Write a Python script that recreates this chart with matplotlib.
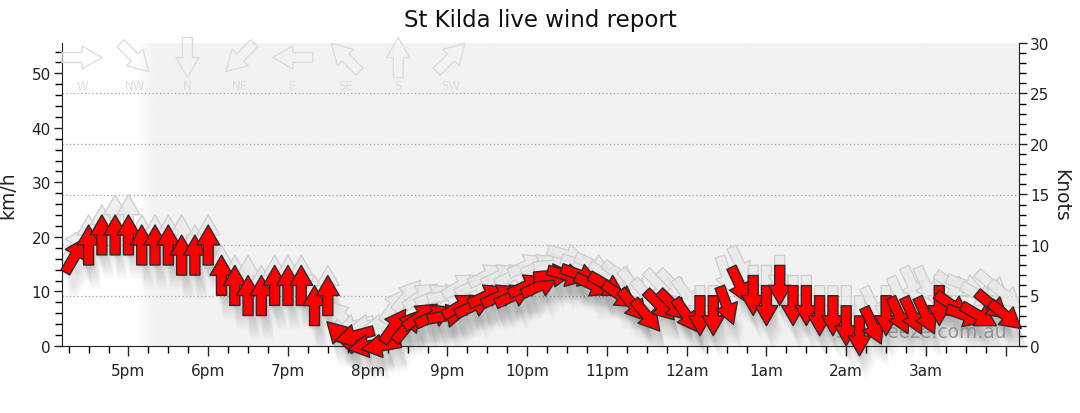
import numpy as np
import matplotlib
matplotlib.use("Agg")
import matplotlib.pyplot as plt
from matplotlib.path import Path
from matplotlib.collections import PathCollection
from matplotlib.transforms import Affine2D, IdentityTransform
from matplotlib.ticker import MultipleLocator, FixedLocator, FixedFormatter

# ---------------- data ----------------
times = ["16:20", "16:30", "16:40", "16:50", "17:00", "17:10", "17:20", "17:30", "17:40", "17:50",
         "18:00", "18:10", "18:20", "18:30", "18:40", "18:50", "19:00", "19:10", "19:20", "19:30",
         "19:40", "19:50", "20:00", "20:10", "20:20", "20:30", "20:40", "20:50", "21:00", "21:10",
         "21:20", "21:30", "21:40", "21:50", "22:00", "22:10", "22:20", "22:30", "22:40", "22:50",
         "23:00", "23:10", "23:20", "23:30", "23:40", "23:50", "00:00", "00:10", "00:20", "00:30",
         "00:40", "00:50", "01:00", "01:10", "01:20", "01:30", "01:40", "01:50", "02:00", "02:10",
         "02:20", "02:30", "02:40", "02:50", "03:00", "03:10", "03:20", "03:30", "03:40", "03:50",
         "04:00"]
speed_kn = [9, 10, 11, 11, 11, 10, 10, 10, 9, 9,
            10, 7, 6, 5, 5, 6, 6, 6, 4, 5,
            1, 1, 0, 0, 2, 2, 3, 3, 3, 4,
            4, 5, 5, 5, 6, 6, 7, 7, 7, 6,
            6, 5, 4, 3, 4, 4, 3, 3, 3, 4,
            6, 5, 4, 6, 4, 4, 3, 3, 2, 1,
            2, 3, 3, 3, 3, 4, 4, 3, 3, 4,
            3]
gust_kn = [10, 11, 12, 13, 13, 11, 11, 11, 11, 10,
           11, 8, 7, 7, 6, 7, 7, 7, 5, 6,
           3, 2, 2, 2, 4, 5, 5, 5, 5, 6,
           6, 7, 7, 7, 8, 8, 8, 9, 8, 8,
           7, 7, 6, 5, 6, 6, 5, 4, 4, 7,
           8, 6, 6, 7, 5, 5, 4, 4, 4, 3,
           4, 4, 5, 6, 6, 5, 6, 6, 5, 6,
           5]
dir_deg = [210, 180, 180, 180, 180, 180, 180, 180, 180, 180,
           180, 180, 180, 180, 180, 180, 180, 180, 180, 180,
           135, 75, 80, 80, 215, 220, 235, 245, 260, 240,
           245, 245, 245, 245, 245, 245, 265, 285, 290, 295,
           300, 305, 320, 320, 315, 315, 325, 0, 0, 340,
           335, 0, 0, 0, 0, 0, 0, 0, 0, 0,
           335, 0, 335, 335, 335, 0, 305, 290, 300, 310,
           310]

hour_labels = ["5pm", "6pm", "7pm", "8pm", "9pm", "10pm", "11pm", "12am", "1am", "2am", "3am", ""]
compass_labels = ["W", "NW", "N", "NE", "E", "SE", "S", "SW"]
compass_deg = [270, 315, 0, 45, 90, 135, 180, 225]

KMH_PER_KN = 1.852
X_MIN, X_MAX = 10 / 60, 12 + 10 / 60      # 4:10pm .. 4:10am (hours after 16:00)
Y_MAX_KN = 30


def to_hours(t):
    h, m = map(int, t.split(":"))
    v = h + m / 60 - 16
    if v < 0:
        v += 24
    return v


x = np.array([to_hours(t) for t in times])
y_wind = np.array(speed_kn) * KMH_PER_KN
y_gust = np.array(gust_kn) * KMH_PER_KN

# ---------------- figure ----------------
FW, FH, DPI = 1080, 414, 100
fig = plt.figure(figsize=(FW / DPI, FH / DPI), dpi=DPI)
L, R, T, B = 62, 1019, 44, 347
ax = fig.add_axes([L / FW, 1 - B / FH, (R - L) / FW, (B - T) / FH])
ax.set_xlim(X_MIN, X_MAX)
ax.set_ylim(0, Y_MAX_KN * KMH_PER_KN)

# background: white until dusk, then light grey with a soft gradient
g0, g1 = 1 + 6 / 60, 1 + 20 / 60
xs = np.linspace(X_MIN, X_MAX, 2000)
ramp = np.clip((xs - g0) / (g1 - g0), 0, 1)
grey = 1 - ramp * (1 - 0xf2 / 255)
img = np.stack([grey, grey, grey], axis=-1)[None, :, :]
img = np.repeat(img, 2, axis=0)
ax.imshow(img, extent=[X_MIN, X_MAX, 0, Y_MAX_KN * KMH_PER_KN], aspect="auto", zorder=0,
          interpolation="bilinear")

# gridlines every 5 knots
for k in range(5, Y_MAX_KN, 5):
    ax.axhline(k * KMH_PER_KN, color="#a0a0a0", linestyle=(0, (1, 2)), linewidth=0.9, zorder=0.5)

# ---------------- arrow shape (pixels, pointing up, centred) ----------------
base = np.array([(-5, -20), (5, -20), (5, 0), (11.5, 0), (0, 20), (-11.5, 0), (-5, 0), (-5, -20)], float)
codes = [Path.MOVETO] + [Path.LINETO] * 6 + [Path.CLOSEPOLY]


def arrow_path(deg_from):
    toward = (deg_from + 180) % 360
    return Path(Affine2D().rotate_deg(-toward).transform(base), codes)


paths = [arrow_path(d) for d in dir_deg]


def add_arrows(target_ax, offs, shift=(0, 0), zorder=2, **kw):
    pc = PathCollection(paths, offsets=offs, offset_transform=target_ax.transData,
                        transform=Affine2D().translate(*shift), zorder=zorder, **kw)
    pc.set_clip_on(False)
    target_ax.add_collection(pc, autolim=False)
    return pc


wind_offs = np.column_stack([x, y_wind])
gust_offs = np.column_stack([x, y_gust])

# soft shadows (diffuse, mostly below the arrows)
for k in range(1, 13):
    add_arrows(ax, wind_offs, shift=(0.6 * k, -2.0 * k), zorder=1.2,
               facecolor=(0, 0, 0, 0.016), edgecolor="none")

# gust arrows
add_arrows(ax, gust_offs, zorder=1.5, facecolor=(0.91, 0.91, 0.91, 0.7), edgecolor="#cdcdcd", linewidth=0.9)

# watermark (behind the red arrows)
ax.text(1008 / FW, 1 - 338 / FH, "seabreeze.com.au", transform=fig.transFigure, ha="right", va="baseline",
        fontsize=13.5, color="#888888", alpha=0.85, zorder=2)

# wind arrows
add_arrows(ax, wind_offs, zorder=3, facecolor="#ff0000", edgecolor="#2a2a2a", linewidth=1.0)

# ---------------- compass legend ----------------
cx = [82 + 52.7 * i for i in range(8)]
leg_paths = [arrow_path(d) for d in compass_deg]
leg = PathCollection(leg_paths, offsets=np.column_stack([np.array(cx) / FW, [1 - 58.5 / FH] * 8]),
                     offset_transform=fig.transFigure, transform=IdentityTransform(),
                     facecolor="none", edgecolor="#dcdcdc", linewidth=1.0, zorder=5)
fig.add_artist(leg)
for xc, lab in zip(cx, compass_labels):
    fig.text(xc / FW, 1 - 87 / FH, lab, ha="center", va="center", fontsize=8.5, color="#dedede")

# ---------------- axes styling ----------------
ax.xaxis.set_major_locator(FixedLocator(np.arange(1, 13)))
ax.xaxis.set_major_formatter(FixedFormatter(hour_labels))
ax.xaxis.set_minor_locator(MultipleLocator(0.25))
ax.yaxis.set_major_locator(MultipleLocator(10))
ax.yaxis.set_minor_locator(MultipleLocator(2))
ax.tick_params(axis="x", which="major", length=7, width=1, pad=5, labelsize=11, colors="#222222")
ax.tick_params(axis="x", which="minor", length=5, width=1)
ax.tick_params(axis="y", which="major", length=6, width=1, pad=2, labelsize=11, colors="#222222")
ax.tick_params(axis="y", which="minor", length=5, width=1)
for s in ["top", "right"]:
    ax.spines[s].set_visible(False)
ax.spines["left"].set_color("#222222")
ax.spines["bottom"].set_color("#222222")
ax.set_ylabel("km/h", fontsize=13.5, color="#222222")
ax.yaxis.set_label_coords(-0.047, 0.5)

ax2 = ax.twinx()
ax2.set_ylim(0, Y_MAX_KN)
ax2.yaxis.set_major_locator(MultipleLocator(5))
ax2.yaxis.set_minor_locator(MultipleLocator(1))
ax2.tick_params(axis="y", which="major", length=6, width=1, pad=2, labelsize=11, colors="#222222")
ax2.tick_params(axis="y", which="minor", length=5, width=1)
for s in ["top", "left", "bottom"]:
    ax2.spines[s].set_visible(False)
ax2.spines["right"].set_color("#222222")
ax2.set_ylabel("Knots", fontsize=13.5, rotation=270, color="#222222")
ax2.yaxis.set_label_coords(1.053, 0.5)

fig.text(0.5, 1 - 21 / FH, "St Kilda live wind report", ha="center", va="center", fontsize=16.5,
         color="#111111")

fig.savefig("out.png", dpi=DPI, facecolor="white")
